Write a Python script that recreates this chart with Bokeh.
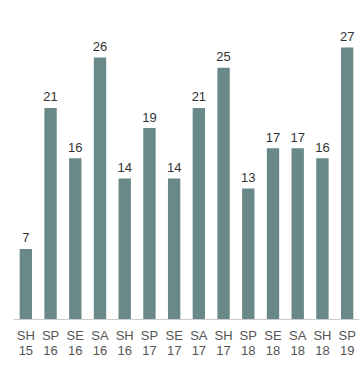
from bokeh.plotting import figure
from bokeh.models import ColumnDataSource, Range1d
from bokeh.embed import file_html
from bokeh.resources import INLINE
from bokeh.core.properties import value

seasons = ["SH", "SP", "SE", "SA", "SH", "SP", "SE", "SA", "SH", "SP", "SE", "SA", "SH", "SP"]
years = ["15", "16", "16", "16", "16", "17", "17", "17", "17", "18", "18", "18", "18", "19"]
counts = [7, 21, 16, 26, 14, 19, 14, 21, 25, 13, 17, 17, 16, 27]

factors = [f"{s}\n{y}" for s, y in zip(seasons, years)]
src = ColumnDataSource(dict(x=factors, top=counts, label=[str(c) for c in counts]))

p = figure(x_range=factors, y_range=Range1d(0, 31.67), width=362, height=364,
           output_backend="svg", toolbar_location=None,
           min_border_left=13, min_border_right=3, min_border_top=0, min_border_bottom=45)
p.outline_line_color = None
p.grid.grid_line_color = None
p.yaxis.visible = False

p.vbar(x="x", top="top", width=0.5, source=src, color="#698888", line_color=None)
p.text(x="x", y="top", text="label", source=src, y_offset=-11,
       text_align="center", text_baseline="alphabetic",
       text_font=value("Liberation Sans"), text_font_size="13px", text_color="#333333")

ax = p.xaxis[0]
ax.axis_line_color = "#cccccc"
ax.major_tick_line_color = None
ax.minor_tick_line_color = None
ax.major_label_standoff = 2
ax.major_label_text_font = "Liberation Sans"
ax.major_label_text_font_size = "13px"
ax.major_label_text_line_height = 1.0
ax.major_label_text_color = "#555555"
ax.major_label_orientation = "horizontal"

open("out.html", "w").write(file_html(p, INLINE))
